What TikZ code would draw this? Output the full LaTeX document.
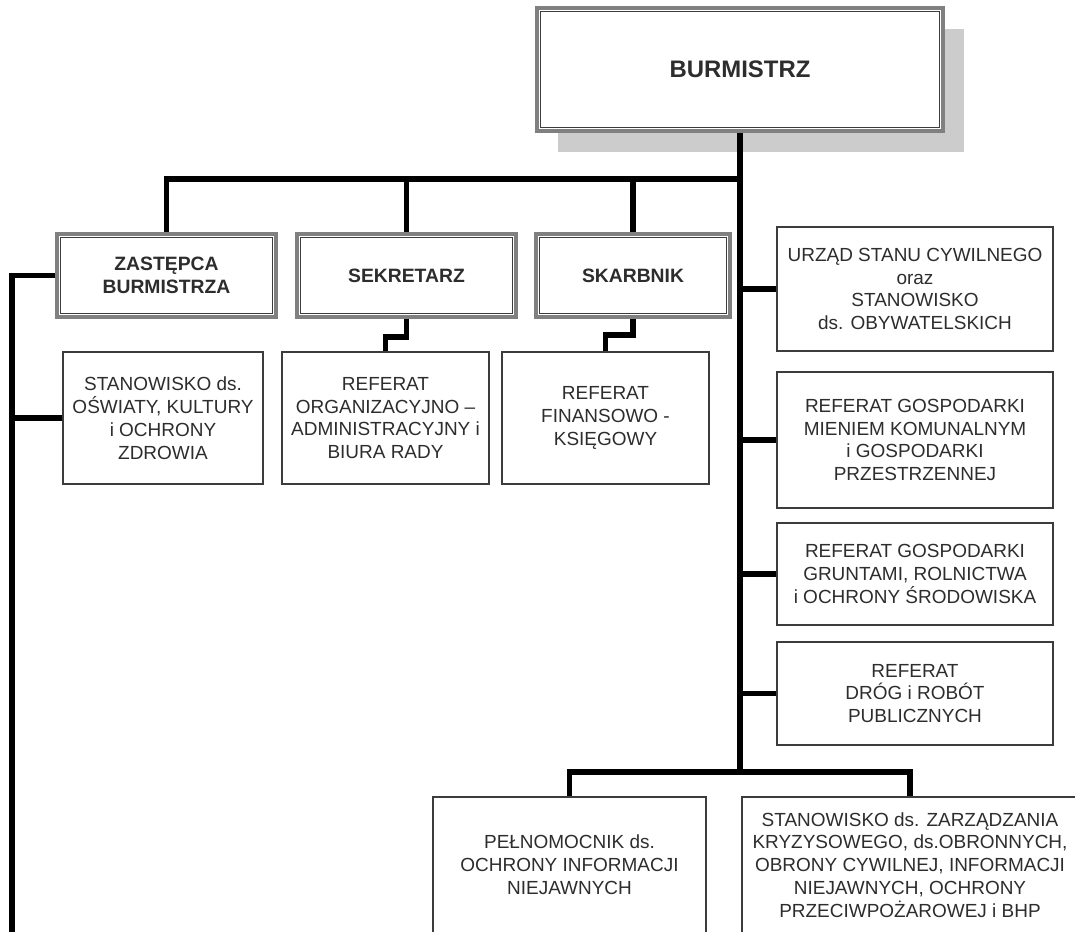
\documentclass[tikz,border=0pt]{standalone}
\usepackage{fontspec}
\setmainfont{Liberation Sans}
\usetikzlibrary{shadows}
\definecolor{frame}{RGB}{60,60,60}
\definecolor{ink}{RGB}{45,45,45}
\definecolor{shade}{RGB}{204,204,204}

\begin{document}
\begin{tikzpicture}[x=0.02cm,y=-0.02cm,
  conn/.style={line width=3.2pt,black},
  unit/.style={draw=frame,line width=0.9pt,fill=white,text=ink,align=center,inner sep=0pt,
    font=\fontsize{10.8}{13}\selectfont},
  head/.style={draw=gray,line width=2pt,fill=white,text=ink,align=center,inner sep=0pt,
    font=\bfseries\fontsize{11}{13.2}\selectfont,minimum height=1.66cm},
  inframe/.style={draw=frame,line width=0.8pt}]
\useasboundingbox (0,0) rectangle (1075,931);
\clip (0,0) rectangle (1075,931);

\node[head,minimum width=8.12cm,minimum height=2.46cm,font=\bfseries\fontsize{13.6}{16}\selectfont,
  drop shadow={shadow xshift=0.42cm,shadow yshift=-0.42cm,fill=shade,opacity=1}] (burm) at (740,69.5) {BURMISTRZ};
\node[head,minimum width=4.38cm] (zast) at (166.5,275.5) {ZASTĘPCA\\BURMISTRZA};
\node[head,minimum width=4.38cm] (sekr) at (406.5,275.5) {SEKRETARZ};
\node[head,minimum width=3.88cm] (skarb) at (633,275.5) {SKARBNIK};
\foreach \n in {burm,zast,sekr,skarb}
  \draw[inframe] ([xshift=3pt,yshift=-3pt]\n.north west) rectangle ([xshift=-3pt,yshift=3pt]\n.south east);

\node[unit,minimum width=4cm,minimum height=2.64cm] (oswiata) at (163,418) {STANOWISKO ds.\\OŚWIATY, KULTURY\\i OCHRONY\\ZDROWIA};
\node[unit,minimum width=4.14cm,minimum height=2.64cm] (orgadm) at (385.5,418) {REFERAT\\ORGANIZACYJNO –\\ADMINISTRACYJNY i\\BIURA RADY};
\node[unit,minimum width=4.14cm,minimum height=2.64cm] (finans) at (605.5,418) {REFERAT\\FINANSOWO -\\KSIĘGOWY};

\node[unit,minimum width=5.52cm,minimum height=2.48cm] (usc) at (915,289) {URZĄD STANU CYWILNEGO\\oraz\\STANOWISKO\\ds. OBYWATELSKICH};
\node[unit,minimum width=5.52cm,minimum height=2.72cm] (mienie) at (915,440) {REFERAT GOSPODARKI\\MIENIEM KOMUNALNYM\\i GOSPODARKI\\PRZESTRZENNEJ};
\node[unit,minimum width=5.52cm,minimum height=2.04cm] (grunty) at (915,574) {REFERAT GOSPODARKI\\GRUNTAMI, ROLNICTWA\\i OCHRONY ŚRODOWISKA};
\node[unit,minimum width=5.52cm,minimum height=2.06cm] (drogi) at (915,693.5) {REFERAT\\DRÓG i ROBÓT\\PUBLICZNYCH};

\node[unit,minimum width=5.46cm,minimum height=2.72cm] (pelnom) at (569.5,865) {PEŁNOMOCNIK ds.\\OCHRONY INFORMACJI\\NIEJAWNYCH};
\node[unit,minimum width=6.72cm,minimum height=2.72cm] (kryzys) at (910,865) {STANOWISKO ds. ZARZĄDZANIA\\KRYZYSOWEGO, ds.OBRONNYCH,\\OBRONY CYWILNEJ, INFORMACJI\\NIEJAWNYCH, OCHRONY\\PRZECIWPOŻAROWEJ i BHP};

\coordinate (hub) at (740,179);
\coordinate (foot) at (740,772);
\coordinate (lbot) at (12,945);

\draw[conn] (burm.south) -- (foot);
\foreach \n in {zast,sekr,skarb}
  \draw[conn] (hub) -| (\n.north);
\draw[conn] (sekr.south) -- ++(0,18) -| (orgadm.north);
\draw[conn] (skarb.south) -- ++(0,16) -| (finans.north);
\draw[conn] (zast.west) -| (lbot);
\draw[conn] (oswiata.west) -- (oswiata.west -| lbot);
\foreach \n in {usc,mienie,grunty,drogi}
  \draw[conn] (\n.west -| foot) -- (\n.west);
\draw[conn] (foot) -| (pelnom.north);
\draw[conn] (foot) -| (kryzys.north);
\end{tikzpicture}
\end{document}
